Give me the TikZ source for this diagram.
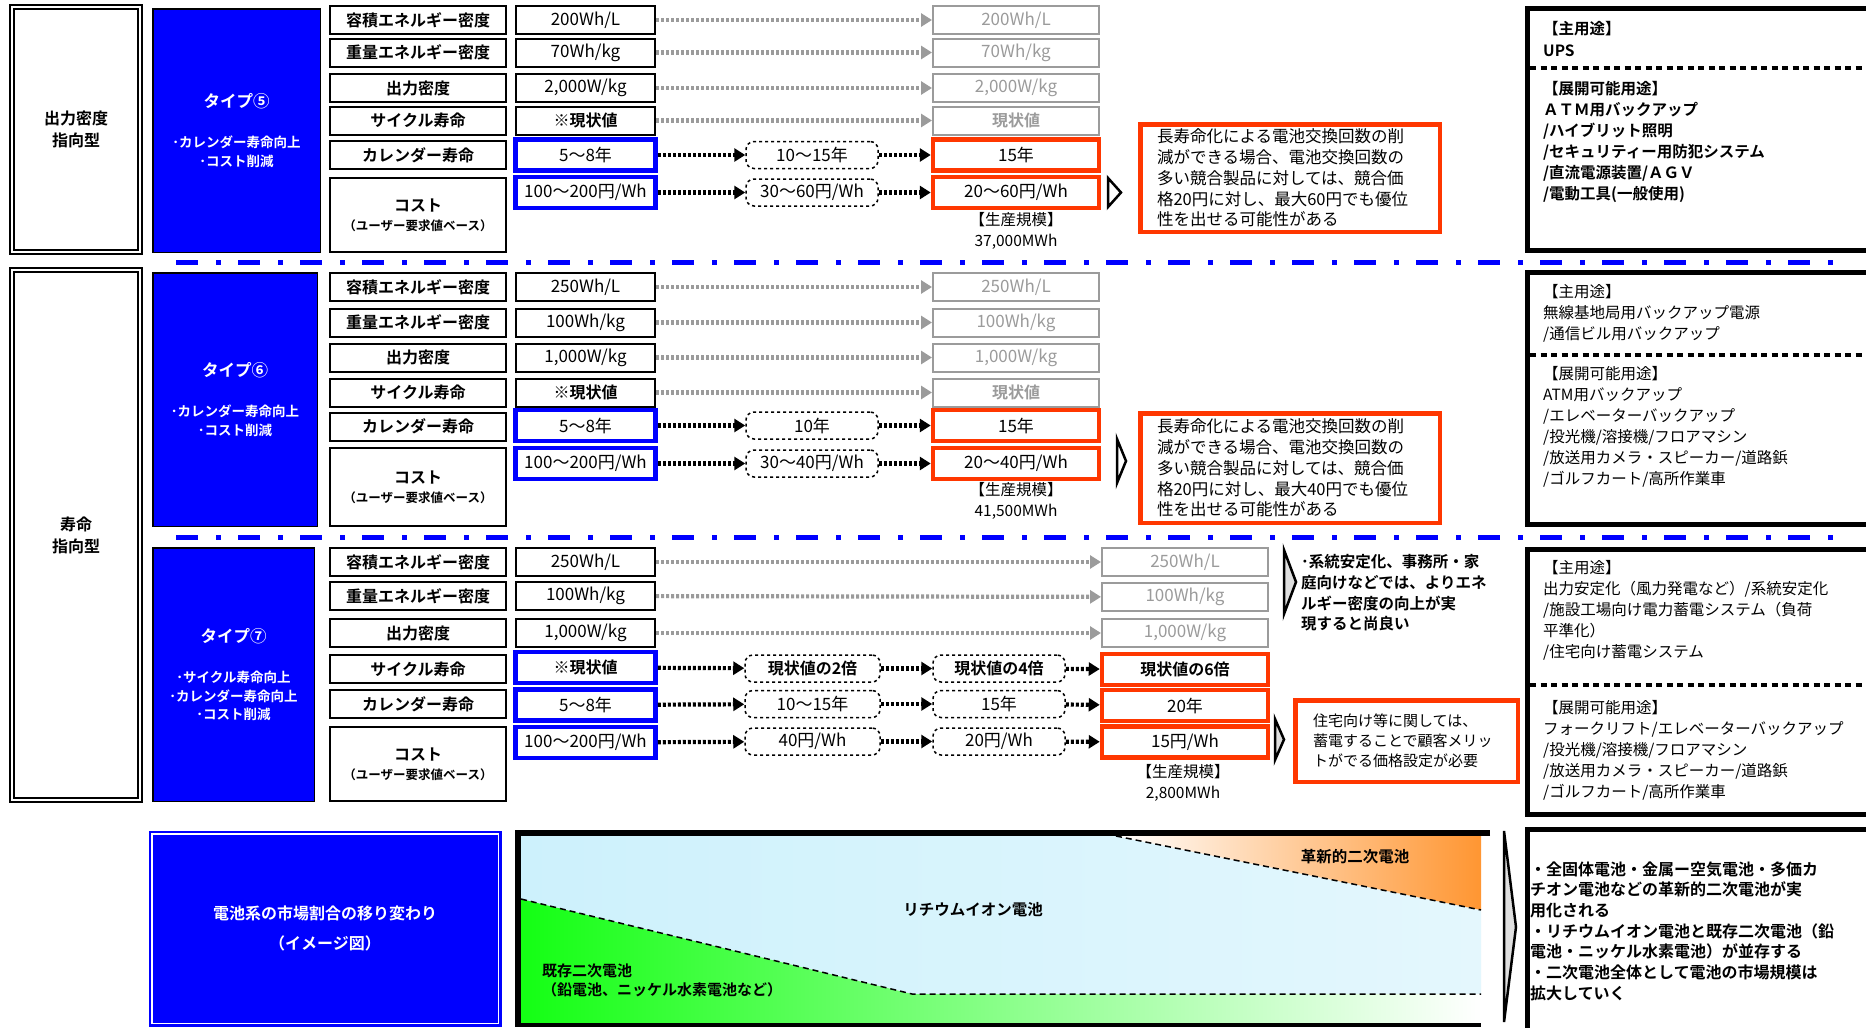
\documentclass[tikz,border=0pt]{standalone}
\usepackage{fontspec}
\usepackage{tikz}
\setmainfont{Noto Sans CJK JP}[BoldFont={Noto Sans CJK JP Bold}]
\usetikzlibrary{arrows.meta, positioning}
\definecolor{typeblue}{RGB}{0,0,255}
\definecolor{goalred}{RGB}{255,55,0}
\definecolor{oldgray}{RGB}{155,155,155}
\definecolor{liionlight}{RGB}{205,241,252}
\definecolor{liionmid}{RGB}{135,222,248}
\definecolor{liionend}{RGB}{228,247,253}
\definecolor{leadgreen}{RGB}{20,255,20}
\definecolor{newbatt}{RGB}{255,150,50}
\tikzset{
    header/.style = {
        draw, line width = 2pt, double, double distance = 2pt,
        minimum width = 128pt, align = center,
        font = \bfseries\fontsize{16}{22}\selectfont
    },
    typebox/.style = {
        draw, line width = 1.5pt, fill = typeblue, text = white,
        align = center, font = \bfseries\fontsize{13.5}{18.5}\selectfont
    },
    item/.style = {
        draw, line width = 2pt, minimum width = 176pt, minimum height = 28pt,
        inner sep = 0pt, align = center,
        font = \bfseries\fontsize{16}{19}\selectfont
    },
    value/.style = {
        draw, line width = 2pt, minimum width = 139pt, minimum height = 28pt,
        inner sep = 0pt, font = \fontsize{17}{19}\selectfont
    },
    valuenow/.style = {value, draw = typeblue, line width = 4.5pt, minimum width = 140pt, minimum height = 31pt},
    stage/.style = {
        draw, dashed, line width = 1.5pt, rounded corners = 8pt,
        minimum width = 132pt, minimum height = 27pt, inner sep = 0pt,
        font = \fontsize{17}{19}\selectfont
    },
    keep/.style = {
        draw = oldgray, text = oldgray, line width = 2pt,
        minimum width = 166pt, minimum height = 28pt, inner sep = 0pt,
        font = \fontsize{17}{19}\selectfont
    },
    goal/.style = {
        draw = goalred, line width = 4.5pt, minimum width = 166pt,
        minimum height = 31pt, inner sep = 0pt, font = \fontsize{17}{19}\selectfont
    },
    note/.style = {draw = goalred, line width = 4.5pt, align = left, inner ysep = 0pt},
    usage/.style = {anchor = west, inner sep = 0pt, align = left, font = \fontsize{15.5}{21}\selectfont},
    prodscale/.style = {align = center, inner sep = 0pt, font = \fontsize{15.5}{21}\selectfont},
    line/.style = {-{Triangle[length=11pt,width=13pt]}, line width = 4.2pt, dash pattern = on 3pt off 2pt},
    greyline/.style = {line, draw = oldgray},
    sepline/.style = {draw = typeblue, line width = 5pt, dash pattern = on 22pt off 18pt on 5pt off 17pt},
    splitline/.style = {line width = 4.5pt, dash pattern = on 6pt off 4.5pt},
    chevron/.style = {draw, line width = 2.5pt, fill = white, line join = miter}
}

\begin{document}
\begin{tikzpicture}[x=1pt, y=-1pt]

    \clip (0,0) rectangle (1866,1028);
    \fill[white] (0,0) rectangle (1866,1028);

    % Output density oriented
    \node[header, minimum height = 245pt] (hdr1) at (76,129.5) {出力密度\\指向型};
    \node[typebox, minimum width = 167.5pt, minimum height = 243.5pt] (type5) at (236.5,130.5)
        {{\fontsize{16.5}{18}\selectfont タイプ⑤}\\[22pt]･カレンダー寿命向上\\･コスト削減};

    % Type 5 items
    \node[item] (s1a) at (418,20) {容積エネルギー密度};
    \node[item] (s1b) at (418,52.5) {重量エネルギー密度};
    \node[item] (s1c) at (418,88) {出力密度};
    \node[item] (s1d) at (418,120.5) {サイクル寿命};
    \node[item] (s1e) at (418,155) {カレンダー寿命};
    \node[item, minimum height = 74pt] (s1f) at (418,215) {コスト\\{\fontsize{12.5}{15}\selectfont （ユーザー要求値ベース）}};

    % Type 5 values
    \node[value] (s1av) at (585.5,20) {200Wh/L};
    \node[value] (s1bv) at (585.5,52.5) {70Wh/kg};
    \node[value] (s1cv) at (585.5,88) {2,000W/kg};
    \node[value, font = \bfseries\fontsize{16}{19}\selectfont] (s1dv) at (585.5,120.5) {※現状値};
    \node[valuenow] (s1ev) at (585.5,155) {5〜8年};
    \node[valuenow] (s1fv) at (585.5,192.5) {100〜200円/Wh};

    % Type 5 targets
    \node[keep] (s1at) at (1016,20) {200Wh/L};
    \node[keep] (s1bt) at (1016,52.5) {70Wh/kg};
    \node[keep] (s1ct) at (1016,88) {2,000W/kg};
    \node[keep, font = \bfseries\fontsize{16}{19}\selectfont] (s1dt) at (1016,120.5) {現状値};
    \node[stage] (s1em) at (812,155) {10〜15年};
    \node[stage] (s1fm) at (812,192.5) {30〜60円/Wh};
    \node[goal] (s1eg) at (1016,155) {15年};
    \node[goal] (s1fg) at (1016,192.5) {20〜60円/Wh};
    \node[prodscale] (s1prod) at (1016,230.5) {【生産規模】\\37,000MWh};

    \draw[greyline] (s1av) -- (s1at);
    \draw[greyline] (s1bv) -- (s1bt);
    \draw[greyline] (s1cv) -- (s1ct);
    \draw[greyline] (s1dv) -- (s1dt);
    \draw[line] (s1ev) -- (s1em);
    \draw[line] (s1em) -- (s1eg);
    \draw[line] (s1fv) -- (s1fm);
    \draw[line] (s1fm) -- (s1fg);

    \draw[chevron] (1108,178) -- (1121,192.5) -- (1108,207) -- cycle;
    \node[note, minimum width = 299.5pt, minimum height = 107.5pt, inner xsep = 16.75pt,
          text width = 266pt, font = \fontsize{16.5}{20.8}\selectfont] (s1note) at (1290,178)
        {長寿命化による電池交換回数の削\\減ができる場合、電池交換回数の\\多い競合製品に対しては、競合価\\格20円に対し、最大60円でも優位\\性を出せる可能性がある};

    % Type 5 uses
    \draw[line width = 5pt] (1527.5,8.5) rectangle (1880,250.5);
    \draw[splitline] (1530,68) -- (1866,68);
    \node[usage, font = \bfseries\fontsize{15.5}{22}\selectfont] (s1main) at (1543,39) {【主用途】\\UPS};
    \node[usage, font = \bfseries\fontsize{15.5}{21}\selectfont] (s1more) at (1543,141.5)
        {【展開可能用途】\\ＡＴＭ用バックアップ\\/ハイブリット照明\\/セキュリティー用防犯システム\\/直流電源装置/ＡＧＶ\\/電動工具(一般使用)};

    \draw[sepline] (176,262) -- (1833,262);

    % Life oriented
    \node[header, minimum height = 530pt] (hdr2) at (76,535) {寿命\\指向型};
    \node[typebox, minimum width = 164.5pt, minimum height = 253.5pt] (type6) at (235,399.5)
        {{\fontsize{16.5}{18}\selectfont タイプ⑥}\\[22pt]･カレンダー寿命向上\\･コスト削減};

    % Type 6 items
    \node[item] (s2a) at (418,287) {容積エネルギー密度};
    \node[item] (s2b) at (418,322.5) {重量エネルギー密度};
    \node[item] (s2c) at (418,357.5) {出力密度};
    \node[item] (s2d) at (418,392.5) {サイクル寿命};
    \node[item] (s2e) at (418,426.5) {カレンダー寿命};
    \node[item, minimum height = 78pt] (s2f) at (418,487) {コスト\\{\fontsize{12.5}{15}\selectfont （ユーザー要求値ベース）}};

    % Type 6 values
    \node[value] (s2av) at (585.5,287) {250Wh/L};
    \node[value] (s2bv) at (585.5,322.5) {100Wh/kg};
    \node[value] (s2cv) at (585.5,357.5) {1,000W/kg};
    \node[value, font = \bfseries\fontsize{16}{19}\selectfont] (s2dv) at (585.5,392.5) {※現状値};
    \node[valuenow] (s2ev) at (585.5,425.5) {5〜8年};
    \node[valuenow] (s2fv) at (585.5,463.5) {100〜200円/Wh};

    % Type 6 targets
    \node[keep] (s2at) at (1016,287) {250Wh/L};
    \node[keep] (s2bt) at (1016,322.5) {100Wh/kg};
    \node[keep] (s2ct) at (1016,357.5) {1,000W/kg};
    \node[keep, font = \bfseries\fontsize{16}{19}\selectfont] (s2dt) at (1016,392.5) {現状値};
    \node[stage] (s2em) at (812,425.5) {10年};
    \node[stage] (s2fm) at (812,463.5) {30〜40円/Wh};
    \node[goal] (s2eg) at (1016,425.5) {15年};
    \node[goal] (s2fg) at (1016,463.5) {20〜40円/Wh};
    \node[prodscale] (s2prod) at (1016,500.5) {【生産規模】\\41,500MWh};

    \draw[greyline] (s2av) -- (s2at);
    \draw[greyline] (s2bv) -- (s2bt);
    \draw[greyline] (s2cv) -- (s2ct);
    \draw[greyline] (s2dv) -- (s2dt);
    \draw[line] (s2ev) -- (s2em);
    \draw[line] (s2em) -- (s2eg);
    \draw[line] (s2fv) -- (s2fm);
    \draw[line] (s2fm) -- (s2fg);

    \draw[chevron] (1117,439) -- (1126,461) -- (1117,483) -- cycle;
    \node[note, minimum width = 299.5pt, minimum height = 109.5pt, inner xsep = 16.75pt,
          text width = 266pt, font = \fontsize{16.5}{20.8}\selectfont] (s2note) at (1290,468)
        {長寿命化による電池交換回数の削\\減ができる場合、電池交換回数の\\多い競合製品に対しては、競合価\\格20円に対し、最大40円でも優位\\性を出せる可能性がある};

    % Type 6 uses
    \draw[line width = 5pt] (1527.5,272.5) rectangle (1880,524.5);
    \draw[splitline] (1530,355) -- (1866,355);
    \node[usage] (s2main) at (1543,313.5) {【主用途】\\無線基地局用バックアップ電源\\/通信ビル用バックアップ};
    \node[usage] (s2more) at (1543,426.5)
        {【展開可能用途】\\ATM用バックアップ\\/エレベーターバックアップ\\/投光機/溶接機/フロアマシン\\/放送用カメラ・スピーカー/道路鋲\\/ゴルフカート/高所作業車};

    \draw[sepline] (176,537) -- (1833,537);

    \node[typebox, minimum width = 161.5pt, minimum height = 253.5pt] (type7) at (233.5,674.5)
        {{\fontsize{16.5}{18}\selectfont タイプ⑦}\\[22pt]･サイクル寿命向上\\･カレンダー寿命向上\\･コスト削減};

    % Type 7 items
    \node[item] (s3a) at (418,562) {容積エネルギー密度};
    \node[item] (s3b) at (418,596) {重量エネルギー密度};
    \node[item] (s3c) at (418,633) {出力密度};
    \node[item] (s3d) at (418,669) {サイクル寿命};
    \node[item] (s3e) at (418,704) {カレンダー寿命};
    \node[item, minimum height = 74pt] (s3f) at (418,764) {コスト\\{\fontsize{12.5}{15}\selectfont （ユーザー要求値ベース）}};

    % Type 7 values
    \node[value] (s3av) at (585.5,562) {250Wh/L};
    \node[value] (s3bv) at (585.5,596) {100Wh/kg};
    \node[value] (s3cv) at (585.5,633) {1,000W/kg};
    \node[valuenow, font = \bfseries\fontsize{16}{19}\selectfont] (s3dv) at (585.5,667.5) {※現状値};
    \node[valuenow] (s3ev) at (585.5,705) {5〜8年};
    \node[valuenow] (s3fv) at (585.5,742.5) {100〜200円/Wh};

    % Type 7 targets
    \node[keep] (s3at) at (1185,562) {250Wh/L};
    \node[keep] (s3bt) at (1185,597) {100Wh/kg};
    \node[keep] (s3ct) at (1185,633) {1,000W/kg};
    \node[stage, minimum width = 135pt, font = \bfseries\fontsize{16}{19}\selectfont] (s3dm) at (812.5,668.5) {現状値の2倍};
    \node[stage, minimum width = 135pt] (s3em) at (812.5,704) {10〜15年};
    \node[stage, minimum width = 135pt] (s3fm) at (812.5,741.5) {40円/Wh};
    \node[stage, font = \bfseries\fontsize{16}{19}\selectfont] (s3dn) at (999,668.5) {現状値の4倍};
    \node[stage] (s3en) at (999,704) {15年};
    \node[stage] (s3fn) at (999,741.5) {20円/Wh};
    \node[goal, font = \bfseries\fontsize{16}{19}\selectfont] (s3dg) at (1185,669.5) {現状値の6倍};
    \node[goal] (s3eg) at (1185,705.5) {20年};
    \node[goal] (s3fg) at (1185,742) {15円/Wh};
    \node[prodscale] (s3prod) at (1183,782.5) {【生産規模】\\2,800MWh};

    \draw[greyline] (s3av) -- (s3at);
    \draw[greyline] (s3bv) -- (s3bt);
    \draw[greyline] (s3cv) -- (s3ct);
    \draw[line] (s3dv) -- (s3dm);
    \draw[line] (s3dm) -- (s3dn);
    \draw[line] (s3dn) -- (s3dg);
    \draw[line] (s3ev) -- (s3em);
    \draw[line] (s3em) -- (s3en);
    \draw[line] (s3en) -- (s3eg);
    \draw[line] (s3fv) -- (s3fm);
    \draw[line] (s3fm) -- (s3fn);
    \draw[line] (s3fn) -- (s3fg);

    \draw[chevron, fill = gray!25] (1284,550) -- (1296,582) -- (1284,614) -- cycle;
    \node[usage, font = \bfseries\fontsize{15.5}{20.7}\selectfont] (s3hint) at (1301,593)
        {･系統安定化、事務所・家\\庭向けなどでは、よりエネ\\ルギー密度の向上が実\\現すると尚良い};
    \draw[chevron, fill = gray!25] (1275,719) -- (1284,739.5) -- (1275,760) -- cycle;
    \node[note, minimum width = 222.5pt, minimum height = 81.5pt, inner xsep = 17.75pt,
          text width = 187pt, font = \fontsize{15}{20}\selectfont] (s3note) at (1406.5,741)
        {住宅向け等に関しては、\\蓄電することで顧客メリッ\\トがでる価格設定が必要};

    % Type 7 uses
    \draw[line width = 5pt] (1527.5,549.5) rectangle (1880,814.5);
    \draw[splitline] (1530,685) -- (1866,685);
    \node[usage] (s3main) at (1543,610)
        {【主用途】\\出力安定化（風力発電など）/系統安定化\\/施設工場向け電力蓄電システム（負荷\\平準化）\\/住宅向け蓄電システム};
    \node[usage] (s3more) at (1543,750.5)
        {【展開可能用途】\\フォークリフト/エレベーターバックアップ\\/投光機/溶接機/フロアマシン\\/放送用カメラ・スピーカー/道路鋲\\/ゴルフカート/高所作業車};

    % Market share
    \node[typebox, draw = typeblue, double = white, double distance = 1.5pt, line width = 2.5pt,
          minimum width = 346.5pt, minimum height = 189.5pt, font = \bfseries\fontsize{16}{20}\selectfont] (trend) at (325,928.5)
        {電池系の市場割合の移り変わり\\[10pt]（イメージ図）};

    \shade[left color = liionlight, middle color = liionmid, right color = liionend]
        (521,836) -- (1116,836) -- (1481,910) -- (1481,994) -- (912,994) -- (521,899) -- cycle;
    \shade[left color = leadgreen, middle color = leadgreen!25!white, right color = white]
        (521,899) -- (912,994) -- (1481,994) -- (1481,1023) -- (521,1023) -- cycle;
    \shade[left color = white, right color = newbatt]
        (1116,836) -- (1481,836) -- (1481,910) -- cycle;
    \draw[line width = 1.5pt, dash pattern = on 6pt off 4pt] (521,899) -- (912,994) -- (1481,994);
    \draw[line width = 1.5pt, dash pattern = on 6pt off 4pt] (1116,836) -- (1481,910);
    \draw[line width = 6pt] (1490,833) -- (515,833);
    \draw[line width = 6pt] (518,830) -- (518,1027);
    \draw[line width = 4pt] (515,1025) -- (1481,1025);

    \node[font = \bfseries\fontsize{15.5}{19}\selectfont] (liion) at (973,910) {リチウムイオン電池};
    \node[font = \bfseries\fontsize{15.5}{19}\selectfont] (novel) at (1355,857) {革新的二次電池};
    \node[usage, font = \bfseries\fontsize{15}{19}\selectfont] (exist) at (542,980.5)
        {既存二次電池\\（鉛電池、ニッケル水素電池など）};

    \draw[chevron, fill = gray!25] (1504,831) -- (1516,927) -- (1504,1022) -- cycle;

    % Outlook
    \draw[line width = 5pt] (1527.5,829.5) rectangle (1880,1040);
    \node[usage, font = \bfseries\fontsize{16}{20.7}\selectfont] (outlook) at (1530,931)
        {・全固体電池・金属ー空気電池・多価カ\\チオン電池などの革新的二次電池が実\\用化される\\・リチウムイオン電池と既存二次電池（鉛\\電池・ニッケル水素電池）が並存する\\・二次電池全体として電池の市場規模は\\拡大していく};

\end{tikzpicture}
\end{document}
